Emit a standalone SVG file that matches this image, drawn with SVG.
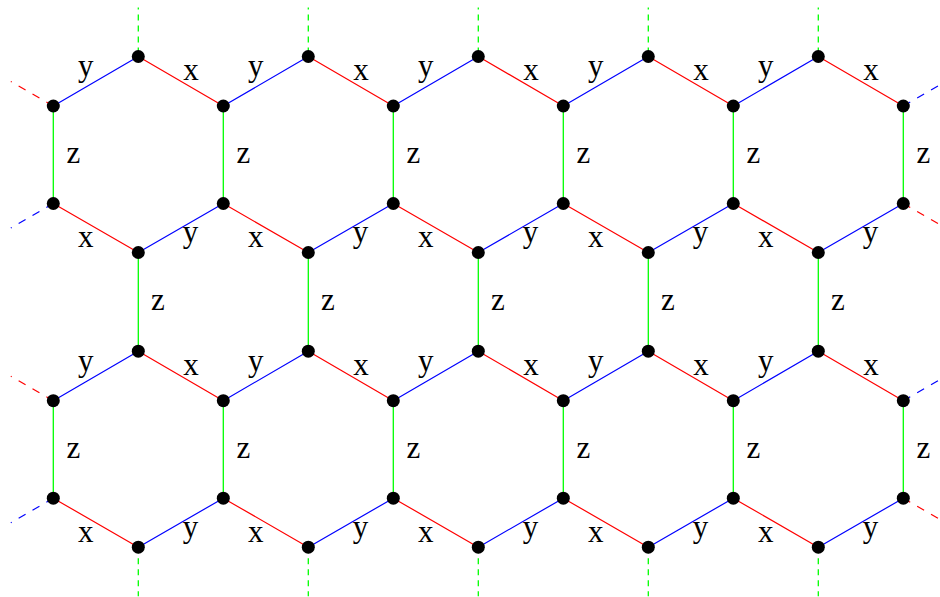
<svg xmlns="http://www.w3.org/2000/svg" width="940" height="597" viewBox="0 0 940 597">
<style>
.x{stroke:#ff0000;stroke-width:1.2;fill:none}
.y{stroke:#0000ff;stroke-width:1.2;fill:none}
.z{stroke:#00ff00;stroke-width:1.3;fill:none}
.d{stroke-dasharray:8 8}
.gd{stroke-dasharray:6 5}
.n{fill:#000}
text{font-family:"Liberation Serif","Times New Roman",serif;font-size:31px;fill:#000;text-anchor:middle}
</style>
<rect width="940" height="597" fill="#fff"/>
<g id="connectors">
<path class="y" d="M53.3,106L138.3,56.5M223.3,106L308.3,56.5M393.3,106L478.3,56.5M563.3,106L648.3,56.5M733.3,106L818.3,56.5"/>
<path class="y" d="M138.3,252.5L223.3,203.5M308.3,252.5L393.3,203.5M478.3,252.5L563.3,203.5M648.3,252.5L733.3,203.5M818.3,252.5L903.3,203.5"/>
<path class="x" d="M138.3,56.5L223.3,106M308.3,56.5L393.3,106M478.3,56.5L563.3,106M648.3,56.5L733.3,106M818.3,56.5L903.3,106"/>
<path class="x" d="M53.3,203.5L138.3,252.5M223.3,203.5L308.3,252.5M393.3,203.5L478.3,252.5M563.3,203.5L648.3,252.5M733.3,203.5L818.3,252.5"/>
<path class="z" d="M53.3,106V203.5M223.3,106V203.5M393.3,106V203.5M563.3,106V203.5M733.3,106V203.5M903.3,106V203.5"/>
<path class="z" d="M138.3,252.5V351.2M308.3,252.5V351.2M478.3,252.5V351.2M648.3,252.5V351.2M818.3,252.5V351.2"/>
<path class="z" d="M53.3,400.7V498.2M223.3,400.7V498.2M393.3,400.7V498.2M563.3,400.7V498.2M733.3,400.7V498.2M903.3,400.7V498.2"/>
<path class="y" d="M53.3,400.7L138.3,351.2M223.3,400.7L308.3,351.2M393.3,400.7L478.3,351.2M563.3,400.7L648.3,351.2M733.3,400.7L818.3,351.2"/>
<path class="y" d="M138.3,547.2L223.3,498.2M308.3,547.2L393.3,498.2M478.3,547.2L563.3,498.2M648.3,547.2L733.3,498.2M818.3,547.2L903.3,498.2"/>
<path class="x" d="M138.3,351.2L223.3,400.7M308.3,351.2L393.3,400.7M478.3,351.2L563.3,400.7M648.3,351.2L733.3,400.7M818.3,351.2L903.3,400.7"/>
<path class="x" d="M53.3,498.2L138.3,547.2M223.3,498.2L308.3,547.2M393.3,498.2L478.3,547.2M563.3,498.2L648.3,547.2M733.3,498.2L818.3,547.2"/>
<path class="x d" d="M53.3,106L10.8,81.5"/>
<path class="x d" d="M53.3,400.7L10.8,376.2"/>
<path class="y d" d="M53.3,203.5L10.8,228"/>
<path class="y d" d="M53.3,498.2L10.8,522.7"/>
<path class="y d" d="M903.3,106L945.8,81.5"/>
<path class="y d" d="M903.3,400.7L945.8,376.2"/>
<path class="x d" d="M903.3,203.5L945.8,228"/>
<path class="x d" d="M903.3,498.2L945.8,522.7"/>
<path class="z gd" stroke-dashoffset="4" d="M138.3,7.5V56.5M308.3,7.5V56.5M478.3,7.5V56.5M648.3,7.5V56.5M818.3,7.5V56.5"/>
<path class="z gd" d="M138.3,547.2V596.2M308.3,547.2V596.2M478.3,547.2V596.2M648.3,547.2V596.2M818.3,547.2V596.2"/>
</g>
<g id="labels">
<text x="85.8" y="75.5">y</text><text x="255.8" y="75.5">y</text><text x="425.8" y="75.5">y</text><text x="595.8" y="75.5">y</text><text x="765.8" y="75.5">y</text>
<text x="191" y="80">x</text><text x="361" y="80">x</text><text x="531" y="80">x</text><text x="701" y="80">x</text><text x="871" y="80">x</text>
<text x="73.3" y="163">z</text><text x="243.3" y="163">z</text><text x="413.3" y="163">z</text><text x="583.3" y="163">z</text><text x="753.3" y="163">z</text><text x="923.3" y="163">z</text>
<text x="85.8" y="246.5">x</text><text x="255.8" y="246.5">x</text><text x="425.8" y="246.5">x</text><text x="595.8" y="246.5">x</text><text x="765.8" y="246.5">x</text>
<text x="190.6" y="241.5">y</text><text x="360.6" y="241.5">y</text><text x="530.6" y="241.5">y</text><text x="700.6" y="241.5">y</text><text x="870.6" y="241.5">y</text>
<text x="158" y="310">z</text><text x="328" y="310">z</text><text x="498" y="310">z</text><text x="668" y="310">z</text><text x="838" y="310">z</text>
<text x="85.8" y="370.5">y</text><text x="255.8" y="370.5">y</text><text x="425.8" y="370.5">y</text><text x="595.8" y="370.5">y</text><text x="765.8" y="370.5">y</text>
<text x="191" y="375">x</text><text x="361" y="375">x</text><text x="531" y="375">x</text><text x="701" y="375">x</text><text x="871" y="375">x</text>
<text x="73.3" y="458">z</text><text x="243.3" y="458">z</text><text x="413.3" y="458">z</text><text x="583.3" y="458">z</text><text x="753.3" y="458">z</text><text x="923.3" y="458">z</text>
<text x="85.8" y="541.5">x</text><text x="255.8" y="541.5">x</text><text x="425.8" y="541.5">x</text><text x="595.8" y="541.5">x</text><text x="765.8" y="541.5">x</text>
<text x="190.6" y="536.5">y</text><text x="360.6" y="536.5">y</text><text x="530.6" y="536.5">y</text><text x="700.6" y="536.5">y</text><text x="870.6" y="536.5">y</text>
</g>
<g id="nodes">
<g id="a1"><circle class="n" cx="138.3" cy="56.5" r="6.5"/></g>
<g id="a3"><circle class="n" cx="308.3" cy="56.5" r="6.5"/></g>
<g id="a5"><circle class="n" cx="478.3" cy="56.5" r="6.5"/></g>
<g id="a7"><circle class="n" cx="648.3" cy="56.5" r="6.5"/></g>
<g id="a9"><circle class="n" cx="818.3" cy="56.5" r="6.5"/></g>
<g id="b0"><circle class="n" cx="53.3" cy="106" r="6.5"/></g>
<g id="b2"><circle class="n" cx="223.3" cy="106" r="6.5"/></g>
<g id="b4"><circle class="n" cx="393.3" cy="106" r="6.5"/></g>
<g id="b6"><circle class="n" cx="563.3" cy="106" r="6.5"/></g>
<g id="b8"><circle class="n" cx="733.3" cy="106" r="6.5"/></g>
<g id="b10"><circle class="n" cx="903.3" cy="106" r="6.5"/></g>
<g id="c0"><circle class="n" cx="53.3" cy="203.5" r="6.5"/></g>
<g id="c2"><circle class="n" cx="223.3" cy="203.5" r="6.5"/></g>
<g id="c4"><circle class="n" cx="393.3" cy="203.5" r="6.5"/></g>
<g id="c6"><circle class="n" cx="563.3" cy="203.5" r="6.5"/></g>
<g id="c8"><circle class="n" cx="733.3" cy="203.5" r="6.5"/></g>
<g id="c10"><circle class="n" cx="903.3" cy="203.5" r="6.5"/></g>
<g id="d1"><circle class="n" cx="138.3" cy="252.5" r="6.5"/></g>
<g id="d3"><circle class="n" cx="308.3" cy="252.5" r="6.5"/></g>
<g id="d5"><circle class="n" cx="478.3" cy="252.5" r="6.5"/></g>
<g id="d7"><circle class="n" cx="648.3" cy="252.5" r="6.5"/></g>
<g id="d9"><circle class="n" cx="818.3" cy="252.5" r="6.5"/></g>
<g id="e1"><circle class="n" cx="138.3" cy="351.2" r="6.5"/></g>
<g id="e3"><circle class="n" cx="308.3" cy="351.2" r="6.5"/></g>
<g id="e5"><circle class="n" cx="478.3" cy="351.2" r="6.5"/></g>
<g id="e7"><circle class="n" cx="648.3" cy="351.2" r="6.5"/></g>
<g id="e9"><circle class="n" cx="818.3" cy="351.2" r="6.5"/></g>
<g id="f0"><circle class="n" cx="53.3" cy="400.7" r="6.5"/></g>
<g id="f2"><circle class="n" cx="223.3" cy="400.7" r="6.5"/></g>
<g id="f4"><circle class="n" cx="393.3" cy="400.7" r="6.5"/></g>
<g id="f6"><circle class="n" cx="563.3" cy="400.7" r="6.5"/></g>
<g id="f8"><circle class="n" cx="733.3" cy="400.7" r="6.5"/></g>
<g id="f10"><circle class="n" cx="903.3" cy="400.7" r="6.5"/></g>
<g id="g0"><circle class="n" cx="53.3" cy="498.2" r="6.5"/></g>
<g id="g2"><circle class="n" cx="223.3" cy="498.2" r="6.5"/></g>
<g id="g4"><circle class="n" cx="393.3" cy="498.2" r="6.5"/></g>
<g id="g6"><circle class="n" cx="563.3" cy="498.2" r="6.5"/></g>
<g id="g8"><circle class="n" cx="733.3" cy="498.2" r="6.5"/></g>
<g id="g10"><circle class="n" cx="903.3" cy="498.2" r="6.5"/></g>
<g id="h1"><circle class="n" cx="138.3" cy="547.2" r="6.5"/></g>
<g id="h3"><circle class="n" cx="308.3" cy="547.2" r="6.5"/></g>
<g id="h5"><circle class="n" cx="478.3" cy="547.2" r="6.5"/></g>
<g id="h7"><circle class="n" cx="648.3" cy="547.2" r="6.5"/></g>
<g id="h9"><circle class="n" cx="818.3" cy="547.2" r="6.5"/></g>
</g>
</svg>
